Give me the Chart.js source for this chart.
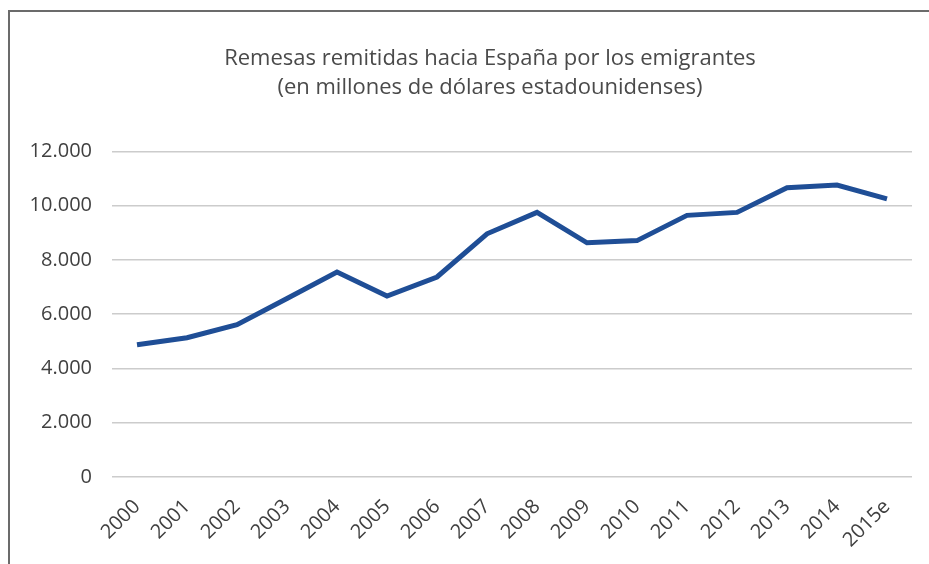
<!DOCTYPE html>
<html>
<head>
<meta charset="utf-8">
<script src="https://cdn.jsdelivr.net/npm/chart.js@4"></script>
<style>
  html, body { margin: 0; padding: 0; background: #fff; }
  #wrap { position: relative; width: 929px; height: 564px; overflow: hidden; }
  #frame { position: absolute; left: 8px; top: 10px; width: 1000px; height: 700px; border: 2px solid #6b6b6b; box-sizing: border-box; }
  canvas { position: absolute; left: 0; top: 0; }
</style>
</head>
<body>
<div id="wrap">
  <div id="frame"></div>
  <canvas id="remesasChart" width="929" height="564"></canvas>
</div>
<script>
const years = ["2000", "2001", "2002", "2003", "2004", "2005", "2006", "2007",
  "2008", "2009", "2010", "2011", "2012", "2013", "2014", "2015e"];
const remesas = [4870, 5130, 5610, 6580, 7550, 6670, 7370, 8960,
  9750, 8630, 8710, 9640, 9750, 10660, 10760, 10250];
const titleLines = [
  "Remesas remitidas hacia España por los emigrantes",
  "(en millones de dólares estadounidenses)"
];

const textFont = "'Open Sans', 'Liberation Sans', sans-serif";

// the title sits a bit right of the plot centre in the original
const shiftTitle = {
  id: "shiftTitle",
  afterLayout(chart) {
    if (chart.titleBlock) chart.titleBlock.left = 68;
  }
};

const ctx = document.getElementById("remesasChart").getContext("2d");
const myChart = new Chart(ctx, {
  type: "line",
  data: {
    labels: years,
    datasets: [
      {
        data: remesas,
        borderColor: "#1f4e96",
        borderWidth: 5,
        pointRadius: 0,
        tension: 0,
        fill: false
      }
    ]
  },
  options: {
    responsive: false,
    animation: false,
    layout: {
      padding: { left: 12, right: 17, top: 0, bottom: 0 }
    },
    plugins: {
      legend: { display: false },
      tooltip: { enabled: false },
      title: {
        display: true,
        text: titleLines,
        color: "#4a4a4a",
        font: { family: textFont, size: 22, weight: "normal", lineHeight: 1.28 },
        padding: { top: 45, bottom: 50 }
      }
    },
    scales: {
      x: {
        offset: true,
        grid: { display: false, drawTicks: false },
        border: { display: false },
        ticks: {
          color: "#404040",
          font: { family: textFont, size: 20 },
          maxRotation: 45,
          minRotation: 45,
          padding: 18,
          autoSkip: false
        },
        afterFit: (scale) => { scale.height = 87; }
      },
      y: {
        min: 0,
        max: 12000,
        grid: { color: "#cccccc", lineWidth: 1.5, drawTicks: false },
        border: { display: false },
        ticks: {
          stepSize: 2000,
          color: "#404040",
          font: { family: textFont, size: 20 },
          padding: 20,
          callback: (v) => v === 0 ? "0" : v.toLocaleString("de-DE")
        },
        afterFit: (scale) => { scale.width = 100; }
      }
    }
  },
  plugins: [shiftTitle]
});
</script>
</body>
</html>
